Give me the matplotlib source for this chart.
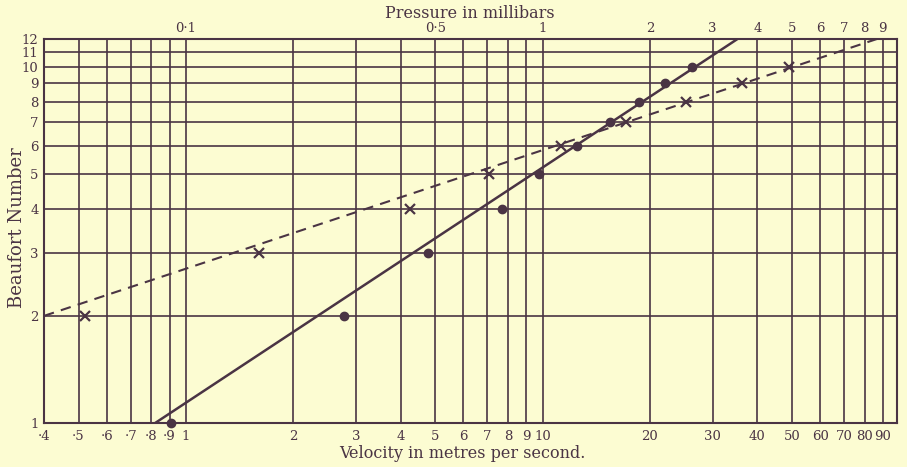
"""Beaufort number against wind velocity and pressure (log-log)."""

import matplotlib
matplotlib.use("Agg")
import matplotlib.pyplot as plt

# observed velocities (m/s) for each Beaufort number
beaufort = [1, 2, 3, 4, 5, 6, 7, 8, 9, 10]
velocity_obs = [0.91, 2.77, 4.76, 7.68, 9.8, 12.5, 15.5, 18.6, 22.1, 26.3]

# velocities from pressure readings (crosses)
beaufort_p = [2, 3, 4, 5, 6, 7, 8, 9, 10]
velocity_p = [0.52, 1.60, 4.24, 7.06, 11.3, 17.1, 25.3, 36.3, 49.2]

# fitted lines (end points)
solid_v = [0.82, 35.2]
solid_b = [1, 12]
dashed_v = [0.4, 86.6]
dashed_b = [2, 12]

# axis ticks / labels
vel_ticks = [0.4, 0.5, 0.6, 0.7, 0.8, 0.9, 1, 2, 3, 4, 5, 6, 7, 8, 9,
             10, 20, 30, 40, 50, 60, 70, 80, 90]
vel_labels = ["·4", "·5", "·6", "·7", "·8", "·9", "1", "2", "3", "4", "5",
              "6", "7", "8", "9", "10", "20", "30", "40", "50", "60", "70",
              "80", "90"]
pressure_ticks = [0.1, 0.5, 1, 2, 3, 4, 5, 6, 7, 8, 9]
pressure_labels = ["0·1", "0·5", "1", "2", "3", "4", "5", "6", "7", "8", "9"]
bf_ticks = [1, 2, 3, 4, 5, 6, 7, 8, 9, 10, 11, 12]

paper = "#fcfcd2"
ink = "#4a3444"

plt.rcParams["font.family"] = ["DejaVu Serif"]

fig = plt.figure(figsize=(9.07, 4.67), dpi=100, facecolor=paper)
ax = fig.add_axes([44 / 907, 44 / 467, 853 / 907, 384 / 467])
ax.set_facecolor(paper)

ax.set_xscale("log")
ax.set_yscale("log")
ax.set_xlim(0.4, 98.6)
ax.set_ylim(1, 12)

ax.set_xticks(vel_ticks)
ax.set_xticklabels(vel_labels)
ax.set_xticks([], minor=True)
ax.set_yticks(bf_ticks)
ax.set_yticklabels([str(b) for b in bf_ticks])
ax.set_yticks([], minor=True)
ax.tick_params(length=0, labelsize=9.5, colors=ink, pad=5)
ax.tick_params(axis="y", pad=4)
ax.grid(True, color=ink, linewidth=1.2)
for sp in ax.spines.values():
    sp.set_color(ink)
    sp.set_linewidth(1.5)

# fitted lines
ax.plot(solid_v, solid_b, color=ink, linewidth=1.8)
ax.plot(dashed_v, dashed_b, color=ink, linewidth=1.5, linestyle=(0, (5, 3.5)))

# observations
ax.plot(velocity_obs, beaufort, linestyle="none", marker="o", markersize=6,
        color=ink, clip_on=False, zorder=5)
ax.plot(velocity_p, beaufort_p, linestyle="none", marker="x", markersize=7,
        markeredgewidth=1.6, color=ink, clip_on=False, zorder=5)

# pressure scale on top (p = v / 10)
top = ax.twiny()
top.set_xscale("log")
top.set_xlim(ax.get_xlim())
top.set_xticks([p * 10 for p in pressure_ticks])
top.set_xticklabels(pressure_labels)
top.set_xticks([], minor=True)
top.tick_params(length=0, labelsize=9.5, colors=ink, pad=3)
for sp in top.spines.values():
    sp.set_visible(False)

fig.text(470 / 907, 1 - 14 / 467, "Pressure in millibars", fontsize=11.5,
         color=ink, ha="center", va="center")
fig.text(462 / 907, 1 - 453 / 467, "Velocity in metres per second.",
         fontsize=11.5, color=ink, ha="center", va="center")
fig.text(17 / 907, 1 - 228 / 467, "Beaufort Number", fontsize=13,
         color=ink, ha="center", va="center", rotation=90)

fig.savefig("out.png", dpi=100, facecolor=paper)
